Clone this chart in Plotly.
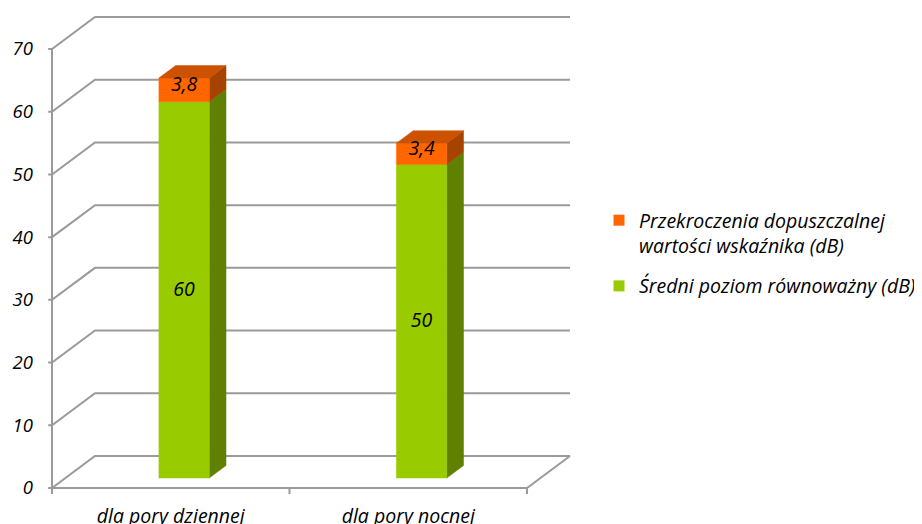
import plotly.graph_objects as go

# ---------------- data ----------------
categories = ["dla pory dziennej", "dla pory nocnej"]
series_names = ["Średni poziom równoważny (dB)",
                "Przekroczenia dopuszczalnej<br>wartości wskaźnika (dB)"]
sredni = [60, 50]
przekroczenia = [3.8, 3.4]
y_ticks = [0, 10, 20, 30, 40, 50, 60, 70]

# ---------------- style / geometry ----------------
FONT = "Open Sans"
GRID = "#9a9a9a"
FRONT = ["#99cc00", "#ff6600"]
SIDE = ["#5f8000", "#a64300"]
TOP = ["#7a9f00", "#cc5200"]

OFF = 8                      # page (body) margin of the html page
W_FIG, H_FIG = 922 - OFF, 524 - OFF

PX_X = 237.5                 # pixels per category
PX_Y = 439 / 70              # pixels per value unit
X0_PX, Y0_PX = 52 - OFF, 488 - OFF   # origin (front plane) in figure pixels
L, R, T, B = 36 - OFF, 590 - OFF, 8 - OFF, 498 - OFF   # plot area

DX = 43 / PX_X               # depth offset in x units
DY = 32 / PX_Y               # depth offset in y units
F0, F1 = 0.31, 0.70          # bar depth (front/back fraction)
HW = 0.106                   # bar half width (category units)

n = len(categories)
fig = go.Figure()

# ---------------- walls / gridlines ----------------
gx, gy = [], []
for v in y_ticks:
    gx += [-0.016, 0, DX, n + DX, None]
    gy += [v, v, v + DY, v + DY, None]
gx += [n + DX, n, 0, None]
gy += [DY, 0, 0, None]
gx += [0, 0, None]
gy += [0, y_ticks[-1], None]
for k in range(n + 1):
    gx += [k, k, None]
    gy += [0, -6 / PX_Y, None]
fig.add_trace(go.Scatter(x=gx, y=gy, mode="lines",
                         line=dict(color=GRID, width=2),
                         hoverinfo="skip", showlegend=False))


def poly(xs, ys, color):
    fig.add_trace(go.Scatter(x=xs + [xs[0]], y=ys + [ys[0]], mode="lines",
                             fill="toself", fillcolor=color,
                             line=dict(color=color, width=0.5),
                             hoverinfo="skip", showlegend=False))


# ---------------- bars ----------------
lab_x, lab_y, lab_t = [], [], []
for i in range(n):
    c = i + 0.5
    segs = [(0, sredni[i]), (sredni[i], sredni[i] + przekroczenia[i])]
    vals = [sredni[i], przekroczenia[i]]
    for s, (lo, hi) in enumerate(segs):
        xl0, xr0 = c - HW + F0 * DX, c + HW + F0 * DX
        xl1, xr1 = c - HW + F1 * DX, c + HW + F1 * DX
        y0l, y0h = lo + F0 * DY, hi + F0 * DY
        y1l, y1h = lo + F1 * DY, hi + F1 * DY
        poly([xr0, xr1, xr1, xr0], [y0l, y1l, y1h, y0h], SIDE[s])
        poly([xl0, xr0, xr0, xl0], [y0l, y0l, y0h, y0h], FRONT[s])
        if s == len(segs) - 1:
            poly([xl0, xl1, xr1, xr0], [y0h, y1h, y1h, y0h], TOP[s])
        lab_x.append(c + F0 * DX)
        lab_y.append((y0l + y0h) / 2 + (0.6 if s == 1 else -0.2))
        lab_t.append(("%g" % vals[s]).replace(".", ","))

fig.add_trace(go.Scatter(x=lab_x, y=lab_y, text=lab_t, mode="text",
                         textfont=dict(family=FONT, size=19.5, color="#000000",
                                       style="italic"),
                         hoverinfo="skip", showlegend=False))

# ---------------- legend entries ----------------
for s in [1, 0]:
    fig.add_trace(go.Scatter(x=[None], y=[None], mode="markers",
                             marker=dict(symbol="square", size=11,
                                         color=FRONT[s]),
                             name=series_names[s], legendgroup=str(s)))

xr = [(L - X0_PX) / PX_X, (R - X0_PX) / PX_X]
yr = [(Y0_PX - B) / PX_Y, (Y0_PX - T) / PX_Y]

LEG_X_PX, LEG_Y_PX = 599 - OFF, 201 - OFF

fig.update_layout(
    width=W_FIG, height=H_FIG,
    margin=dict(l=L, r=W_FIG - R, t=T, b=H_FIG - B, pad=0, autoexpand=False),
    paper_bgcolor="white", plot_bgcolor="white",
    font=dict(family=FONT, size=19, color="#000000", style="italic"),
    showlegend=True,
    legend=dict(x=(LEG_X_PX - L) / (R - L), y=(B - LEG_Y_PX) / (B - T),
                xref="paper", yref="paper",
                xanchor="left", yanchor="top", valign="top",
                traceorder="grouped", tracegroupgap=12,
                font=dict(family=FONT, size=19.5, style="italic"),
                bgcolor="rgba(0,0,0,0)"),
    xaxis=dict(range=xr, showgrid=False, zeroline=False, showline=False,
               tickvals=[i + 0.5 for i in range(n)], ticktext=categories,
               ticks="", ticklabelstandoff=4, automargin=False,
               tickfont=dict(family=FONT, size=19.5, style="italic")),
    yaxis=dict(range=yr, showgrid=False, zeroline=False, showline=False,
               tickvals=y_ticks, ticks="", ticklabelstandoff=2,
               automargin=False,
               tickfont=dict(family=FONT, size=18.5, style="italic")),
)

fig.write_html("out.html")
